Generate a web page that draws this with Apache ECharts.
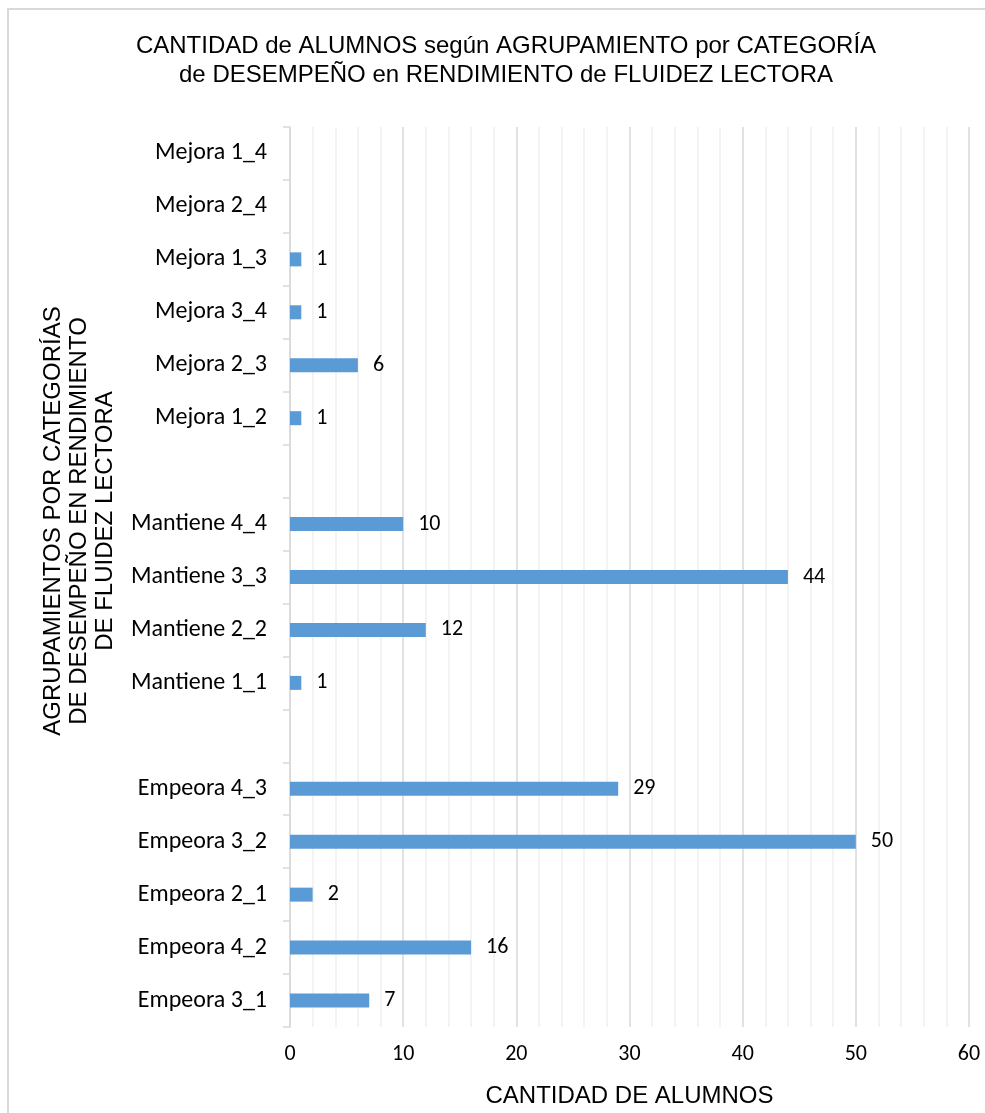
<!DOCTYPE html>
<html>
<head>
<meta charset="utf-8">
<script src="https://cdn.jsdelivr.net/npm/echarts@6/dist/echarts.min.js"></script>
<style>
  html, body { margin: 0; padding: 0; background: #fff; }
  #chart { width: 985px; height: 1113px; }
</style>
</head>
<body>
<div id="chart"></div>
<script>
// Groupings, top to bottom; blank entries are the gaps between blocks
const categories = [
  'Mejora 1_4', 'Mejora 2_4', 'Mejora 1_3', 'Mejora 3_4', 'Mejora 2_3', 'Mejora 1_2',
  ' ',
  'Mantiene 4_4', 'Mantiene 3_3', 'Mantiene 2_2', 'Mantiene 1_1',
  '  ',
  'Empeora 4_3', 'Empeora 3_2', 'Empeora 2_1', 'Empeora 4_2', 'Empeora 3_1'
];
// Number of students per grouping (null = no bar)
const students = [
  null, null, 1, 1, 6, 1,
  null,
  10, 44, 12, 1,
  null,
  29, 50, 2, 16, 7
];
const xTicks = { min: 0, max: 60, step: 10 };

const titleText = 'CANTIDAD de ALUMNOS según AGRUPAMIENTO por CATEGORÍA\nde DESEMPEÑO en RENDIMIENTO de FLUIDEZ LECTORA';
const yName = 'AGRUPAMIENTOS POR CATEGORÍAS\nDE DESEMPEÑO EN RENDIMIENTO\nDE FLUIDEZ LECTORA';
const xName = 'CANTIDAD DE ALUMNOS';

const sansFont = '"Liberation Sans", Arial, sans-serif';
const labelFont = 'Carlito, Calibri, Lato, sans-serif';

const chart = echarts.init(document.getElementById('chart'), null, { renderer: 'canvas' });

chart.setOption({
  animation: false,
  backgroundColor: '#ffffff',
  graphic: [
    {
      type: 'rect',
      shape: { x: 8, y: 9, width: 1000, height: 1200 },
      style: { fill: 'none', stroke: '#d9d9d9', lineWidth: 2 },
      silent: true
    },
    {
      type: 'text',
      x: 506, y: 61,
      style: {
        text: titleText,
        font: '24px ' + sansFont,
        fill: '#000',
        align: 'center',
        verticalAlign: 'middle',
        lineHeight: 29
      }
    },
    {
      type: 'text',
      x: 79, y: 521,
      rotation: Math.PI / 2,
      style: {
        text: yName,
        font: '24px ' + sansFont,
        fill: '#000',
        align: 'center',
        verticalAlign: 'middle',
        lineHeight: 26
      }
    }
  ],
  grid: { left: 290, right: 16, top: 127, bottom: 80, containLabel: false },
  xAxis: {
    type: 'value',
    min: xTicks.min,
    max: xTicks.max,
    interval: xTicks.step,
    name: xName,
    nameLocation: 'middle',
    nameGap: 57,
    nameTextStyle: { fontFamily: sansFont, fontSize: 24, color: '#000' },
    axisLine: { show: false },
    axisTick: { show: false },
    axisLabel: { fontFamily: labelFont, fontSize: 22, color: '#000', margin: 16 },
    splitLine: { show: true, lineStyle: { color: '#d9d9d9', width: 1.5 } },
    minorTick: { show: false, splitNumber: 5 },
    minorSplitLine: { show: true, lineStyle: { color: '#f0f0f0', width: 1.5 } }
  },
  yAxis: {
    type: 'category',
    data: categories,
    inverse: true,
    axisLine: { show: true, lineStyle: { color: '#d9d9d9', width: 1.5 } },
    axisTick: { show: true, length: 7, lineStyle: { color: '#d9d9d9', width: 1.5 } },
    axisLabel: { fontFamily: labelFont, fontSize: 24, color: '#000', margin: 23 },
    splitLine: { show: false }
  },
  series: [
    {
      type: 'bar',
      data: students,
      barWidth: 14,
      itemStyle: { color: '#5b9bd5' },
      label: {
        show: true,
        position: 'right',
        distance: 15,
        fontFamily: labelFont,
        fontSize: 22,
        color: '#000'
      }
    }
  ]
});
</script>
</body>
</html>
